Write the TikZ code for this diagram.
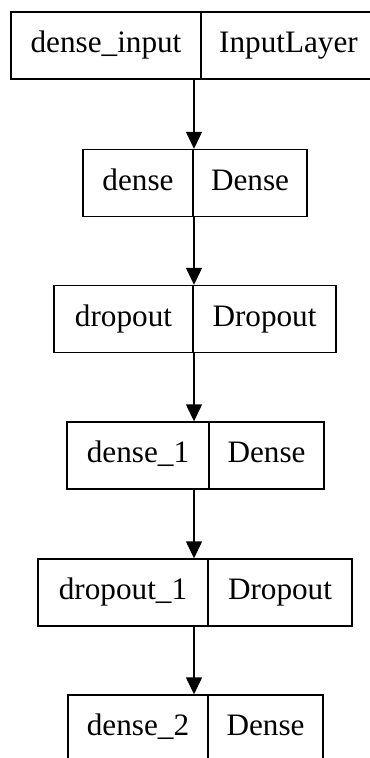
\documentclass[tikz,border=0pt]{standalone}
\usepackage{fontspec}
\setmainfont{Liberation Serif}
\usepackage{tikz}
\usetikzlibrary{arrows.meta}
\tikzset{layer/.style={draw,line width=0.7pt,rectangle,minimum height=33.5pt,inner sep=0pt,text height=10.5pt,text depth=3.2pt,font=\fontsize{15.6}{18}\selectfont},
         flow/.style={line width=0.7pt,-{Triangle[width=8pt,length=8.5pt]}}}

\begin{document}
\begin{tikzpicture}[x=0.5pt,y=-0.5pt]
            \useasboundingbox (0,0) rectangle (369,758);
            % входной слой
            \node[layer,minimum width=95pt] (inL) at (106,45.5) {dense\_input};
            \node[layer,minimum width=87.5pt] (inR) at (288.5,45.5) {InputLayer};
            % dense
            \node[layer,minimum width=55pt] (d0L) at (138,183) {dense};
            \node[layer,minimum width=57pt] (d0R) at (250,183) {Dense};
            % dropout
            \node[layer,minimum width=69.5pt] (p0L) at (123.5,319) {dropout};
            \node[layer,minimum width=71.5pt] (p0R) at (264.5,319) {Dropout};
            % dense_1
            \node[layer,minimum width=71pt] (d1L) at (138,455.5) {dense\_1};
            \node[layer,minimum width=57.5pt] (d1R) at (266.5,455.5) {Dense};
            % dropout_1
            \node[layer,minimum width=85pt] (p1L) at (123,592.5) {dropout\_1};
            \node[layer,minimum width=72pt] (p1R) at (280,592.5) {Dropout};
            % dense_2
            \node[layer,minimum width=70pt] (d2L) at (138,728.5) {dense\_2};
            \node[layer,minimum width=57.5pt] (d2R) at (265.5,728.5) {Dense};

            % стрелки
            \coordinate (ax) at (194,0);
            \draw[flow] (inL.south -| ax) -- (d0L.north -| ax);
            \draw[flow] (d0L.south -| ax) -- (p0L.north -| ax);
            \draw[flow] (p0L.south -| ax) -- (d1L.north -| ax);
            \draw[flow] (d1L.south -| ax) -- (p1L.north -| ax);
            \draw[flow] (p1L.south -| ax) -- (d2L.north -| ax);
        \end{tikzpicture}
\end{document}
